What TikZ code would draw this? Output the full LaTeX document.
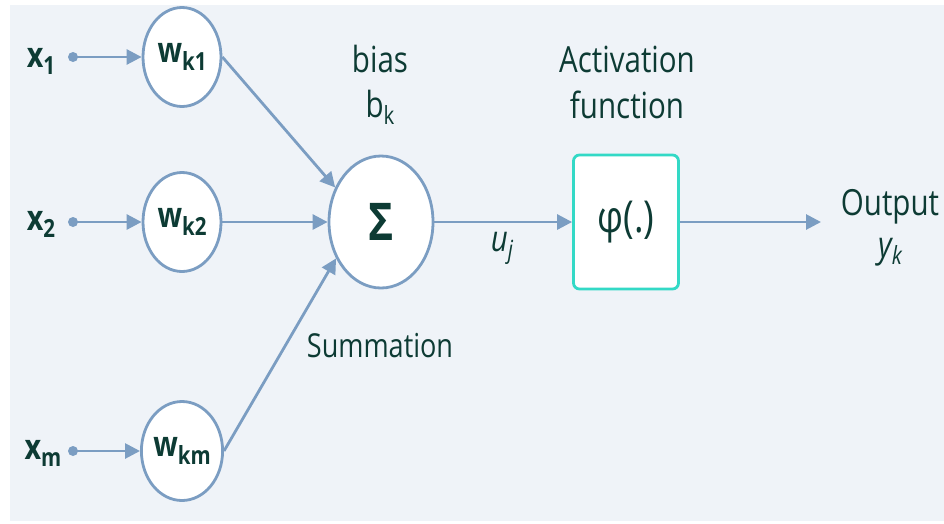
\documentclass[tikz,border=0pt]{standalone}
\usepackage{fontspec}
\setmainfont[FakeStretch=0.82]{Open Sans}
\usetikzlibrary{shapes.geometric,arrows.meta}
\definecolor{bg}{HTML}{EFF3F8}
\definecolor{wire}{HTML}{7B9DC2}
\definecolor{ink}{HTML}{0D3B34}
\definecolor{boxc}{HTML}{33D9C6}
\newcommand\subs[1]{\raisebox{-0.22em}{\fontsize{25}{25}\selectfont #1}}
\begin{document}
\begin{tikzpicture}[x=1pt,y=-1pt,
  wcirc/.style={ellipse,draw=wire,fill=white,line width=2.8pt,minimum width=78pt,minimum height=99pt,inner sep=0pt,text=ink,font=\fontsize{35}{35}\selectfont\bfseries},
  sumc/.style={ellipse,draw=wire,fill=white,line width=2.8pt,minimum width=104pt,minimum height=132pt,inner sep=0pt,text=ink,font=\fontsize{52}{52}\selectfont\bfseries},
  actbox/.style={rectangle,rounded corners=6pt,draw=boxc,fill=white,line width=2.8pt,minimum width=105pt,minimum height=134pt,inner sep=0pt,text=ink,font=\fontsize{44}{44}\selectfont},
  lab/.style={text=ink,inner sep=0pt,anchor=base,font=\fontsize{36}{36}\selectfont},
  xlab/.style={text=ink,inner sep=0pt,anchor=base,font=\fontsize{35}{35}\selectfont\bfseries},
  wire/.style={draw=wire,line width=2.8pt,-{Triangle[length=15pt,width=15pt]}},
  dot/.style={fill=wire}]
\useasboundingbox (0,0) rectangle (944,523);
\fill[bg] (10,5) rectangle (944,521);

% input dots
\coordinate (d1) at (73,57);
\coordinate (d2) at (73,222);
\coordinate (dm) at (73,451);
\fill[dot] (d1) circle (5pt);
\fill[dot] (d2) circle (5pt);
\fill[dot] (dm) circle (5pt);

% input labels
\node[xlab] (x1) at (41,67) {x\subs{1}};
\node[xlab] (x2) at (41,230) {x\subs{2}};
\node[xlab] (xm) at (43,459) {x\subs{m}};

% weights
\node[wcirc] (w1) at (182,57) {w\subs{k1}};
\node[wcirc] (w2) at (182,222) {w\subs{k2}};
\node[wcirc] (wm) at (182,451) {w\subs{km}};

% summation
\node[sumc] (sig) at (381,222) {Σ};

% activation box
\node[actbox] (phi) at (626,222) {φ(.)};
\coordinate (out) at (821,222);

% arrows
\draw[wire] (d1) -- (w1.west);
\draw[wire] (d2) -- (w2.west);
\draw[wire] (dm) -- (wm.west);
\draw[wire] (w1.east) -- (sig.143);
\draw[wire] (w2.east) -- (sig.west);
\draw[wire] (wm.east) -- (sig.219);
\draw[wire] (sig.east) -- (phi.west);
\draw[wire] (phi.east) -- (out);

% text labels
\node[lab] (bias) at (380,72) {bias};
\node[lab] (bk) at (380,117) {b\subs{k}};
\node[lab] (act1) at (627,72) {Activation};
\node[lab] (act2) at (627,118) {function};
\node[lab,font=\fontsize{33}{33}\selectfont] (summ) at (380,357) {Summation};
\node[lab] (outp) at (890,215) {Output};
\node[lab] (yk) at (890,257) {\itshape y\subs{k}};
\node[lab] (uj) at (502,251) {\itshape u\subs{j}};
\end{tikzpicture}
\end{document}
